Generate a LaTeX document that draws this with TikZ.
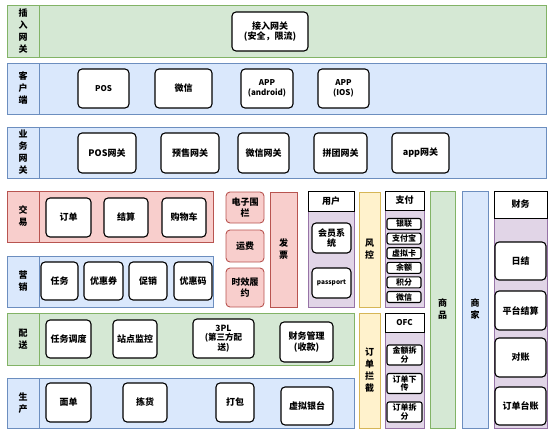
\documentclass[tikz,border=0pt]{standalone}
\usepackage{fontspec}
\setmainfont{Noto Sans CJK SC}
\usepackage{tikz}
\usetikzlibrary{positioning}

\definecolor{grnfill}{HTML}{D5E8D4}
\definecolor{grnline}{HTML}{82B366}
\definecolor{blufill}{HTML}{DAE8FC}
\definecolor{bluline}{HTML}{6C8EBF}
\definecolor{redfill}{HTML}{F8CECC}
\definecolor{redline}{HTML}{B85450}
\definecolor{purfill}{HTML}{E1D5E7}
\definecolor{purline}{HTML}{9673A6}
\definecolor{yelfill}{HTML}{FFF2CC}
\definecolor{yelline}{HTML}{D6B656}

\tikzset{
  lane/.style={line width=1pt},
  tag/.style={align=center, inner sep=0pt, font=\fontsize{9}{12}\selectfont\bfseries},
  box/.style 2 args={draw, fill=white, rounded corners=4pt, line width=1.1pt,
    align=center, inner sep=0pt, minimum width=#1, minimum height=#2,
    font=\fontsize{9}{10.5}\selectfont\bfseries},
  pinkbox/.style 2 args={box={#1}{#2}, draw=redline, fill=redfill, line width=0.9pt},
  head/.style 2 args={draw, fill=white, line width=1pt, inner sep=0pt,
    minimum width=#1, minimum height=#2, font=\fontsize{9}{10}\selectfont\bfseries},
  chip/.style 2 args={box={#1}{#2}, rounded corners=2pt,
    font=\fontsize{8}{8.5}\selectfont\bfseries}
}

\begin{document}
\begin{tikzpicture}[x=1pt, y=-1pt]
  \useasboundingbox (0,0) rectangle (553,434);
  % Layer: access gateway
  \draw[lane, draw=grnline, fill=grnfill] (7,5) rectangle (546,57);
  \draw[lane, draw=grnline] (39,5) -- (39,57);
  \node[tag] (accesstag) at (23,31) {插\\入\\网\\关};
  \node[box={76}{39}] (access) at (270,31.5) {接入网关\\(安全，限流)};
  % Layer: clients
  \draw[lane, draw=bluline, fill=blufill] (7,63) rectangle (546,114);
  \draw[lane, draw=bluline] (39,63) -- (39,114);
  \node[tag] (clienttag) at (23,88.5) {客\\户\\端};
  \node[box={51}{39}, font=\fontsize{8}{10}\selectfont\bfseries] (pos) at (103.5,88.5) {POS};
  \node[box={57}{39}] (wechat) at (183.5,88.5) {微信};
  \node[box={52}{39}, font=\fontsize{8}{10}\selectfont\bfseries] (android) at (267,88.5) {APP\\(android)};
  \node[box={51}{39}, font=\fontsize{8}{10}\selectfont\bfseries] (ios) at (343.5,88.5) {APP\\(IOS)};
  % Layer: business gateways
  \draw[lane, draw=bluline, fill=blufill] (7,127) rectangle (546,178);
  \draw[lane, draw=bluline] (39,127) -- (39,178);
  \node[tag] (bizgwtag) at (23,152.5) {业\\务\\网\\关};
  \node[box={58}{40}] (posgw) at (107,153) {POS网关};
  \node[box={58}{40}] (presalegw) at (190,153) {预售网关};
  \node[box={51}{40}] (wechatgw) at (263.5,153) {微信网关};
  \node[box={53}{40}] (groupgw) at (340.5,153) {拼团网关};
  \node[box={57}{40}] (appgw) at (420.5,153) {app网关};
  % Trade
  \draw[lane, draw=redline, fill=redfill] (7,191) rectangle (213,242);
  \draw[lane, draw=redline] (39,191) -- (39,242);
  \node[tag] (tradetag) at (23,216.5) {交\\易};
  \node[box={45}{39}] (order) at (68.5,217.5) {订单};
  \node[box={44}{39}] (settle) at (126,217.5) {结算};
  \node[box={44}{39}] (cart) at (184,217.5) {购物车};
  % Marketing
  \draw[lane, draw=bluline, fill=blufill] (7,256) rectangle (213,307);
  \draw[lane, draw=bluline] (39,256) -- (39,307);
  \node[tag] (marketingtag) at (23,281.5) {营\\销};
  \node[box={37}{38}] (task) at (59.5,281) {任务};
  \node[box={39}{38}] (coupon) at (103.5,281) {优惠券};
  \node[box={38}{38}] (promo) at (148,281) {促销};
  \node[box={38}{38}] (promocode) at (193,281) {优惠码};
  % Small trade services
  \node[pinkbox={38}{31}] (fence) at (245,207.5) {电子围\\栏};
  \node[pinkbox={38}{32}] (freight) at (245,246) {运费};
  \node[pinkbox={38}{39}] (timeliness) at (245,287.5) {时效履\\约};
  \draw[lane, draw=redline, fill=redfill] (270,192) rectangle (297,307);
  \node[tag] (invoice) at (283.5,249.5) {发\\票};
  % Users
  \draw[lane, draw=purline, fill=purfill] (308,191) rectangle (354,307);
  \node[head={46}{20}] (user) at (331,201) {用户};
  \node[box={39}{30}] (member) at (331.5,238) {会员系\\统};
  \node[box={39}{30}, font=\fontsize{6.5}{8}\selectfont\bfseries] (passport) at (331.5,283) {passport};
  % Risk control
  \draw[lane, draw=yelline, fill=yelfill] (359,192) rectangle (380,307);
  \node[tag] (risk) at (369.5,249.5) {风\\控};
  % Payment
  \draw[lane, draw=purline, fill=purfill] (385,191) rectangle (424,307);
  \node[head={39}{19}] (pay) at (404.5,200.5) {支付};
  \foreach \t [count=\i] in {银联,支付宝,虚拟卡,余额,积分,微信} {
    \node[chip={34}{11}] (pay\i) at (404,{209.4+14.6*\i}) {\t};
  }
  % Goods and merchants
  \draw[lane, draw=grnline, fill=grnfill] (430,191) rectangle (455,428);
  \node[tag] (goods) at (442.5,309.5) {商\\品};
  \draw[lane, draw=bluline, fill=blufill] (462,191) rectangle (488,428);
  \node[tag] (merchant) at (475,309.5) {商\\家};
  % Finance
  \draw[lane, draw=purline, fill=purfill] (494,191) rectangle (547,428);
  \node[head={53}{27}] (finance) at (520.5,204.5) {财务};
  \node[box={51}{38}] (daily) at (520.5,261) {日结};
  \node[box={51}{39}] (platform) at (520.5,310.5) {平台结算};
  \node[box={51}{39}] (reconcile) at (520.5,357.5) {对账};
  \node[box={51}{38}] (ledger) at (520.5,406) {订单台账};
  % Delivery
  \draw[lane, draw=grnline, fill=grnfill] (7,313) rectangle (354,365);
  \draw[lane, draw=grnline] (39,313) -- (39,365);
  \node[tag] (deliverytag) at (23,339) {配\\送};
  \node[box={45}{38}] (dispatch) at (68.5,339) {任务调度};
  \node[box={44}{38}] (station) at (135,339) {站点监控};
  \node[box={61}{39}, font=\fontsize{8.5}{9.5}\selectfont\bfseries] (tpl) at (223.5,338.5) {3PL\\(第三方配\\送)};
  \node[box={53}{40}] (cashier) at (306.5,342) {财务管理\\(收款)};
  % Production
  \draw[lane, draw=bluline, fill=blufill] (7,378) rectangle (354,428);
  \draw[lane, draw=bluline] (39,378) -- (39,428);
  \node[tag] (productiontag) at (23,403) {生\\产};
  \node[box={45}{39}] (waybill) at (68.5,402.5) {面单};
  \node[box={44}{39}] (picking) at (145,402.5) {拣货};
  \node[box={38}{39}] (packing) at (235,402.5) {打包};
  \node[box={52}{38}] (vcashier) at (307,406) {虚拟银台};
  % Order interception
  \draw[lane, draw=yelline, fill=yelfill] (359,313) rectangle (380,428);
  \node[tag] (intercept) at (369.5,370.5) {订\\单\\拦\\截};
  % OFC
  \draw[lane, draw=purline, fill=purfill] (385,313) rectangle (424,428);
  \node[head={39}{19}, font=\fontsize{8}{10}\selectfont\bfseries\itshape] (ofc) at (404.5,322.5) {OFC};
  \foreach \t [count=\i] in {{金额拆\\分},{订单下\\传},{订单拆\\分}} {
    \node[chip={35}{20}] (ofc\i) at (404.5,{326.5+28.5*\i}) {\t};
  }
\end{tikzpicture}
\end{document}
